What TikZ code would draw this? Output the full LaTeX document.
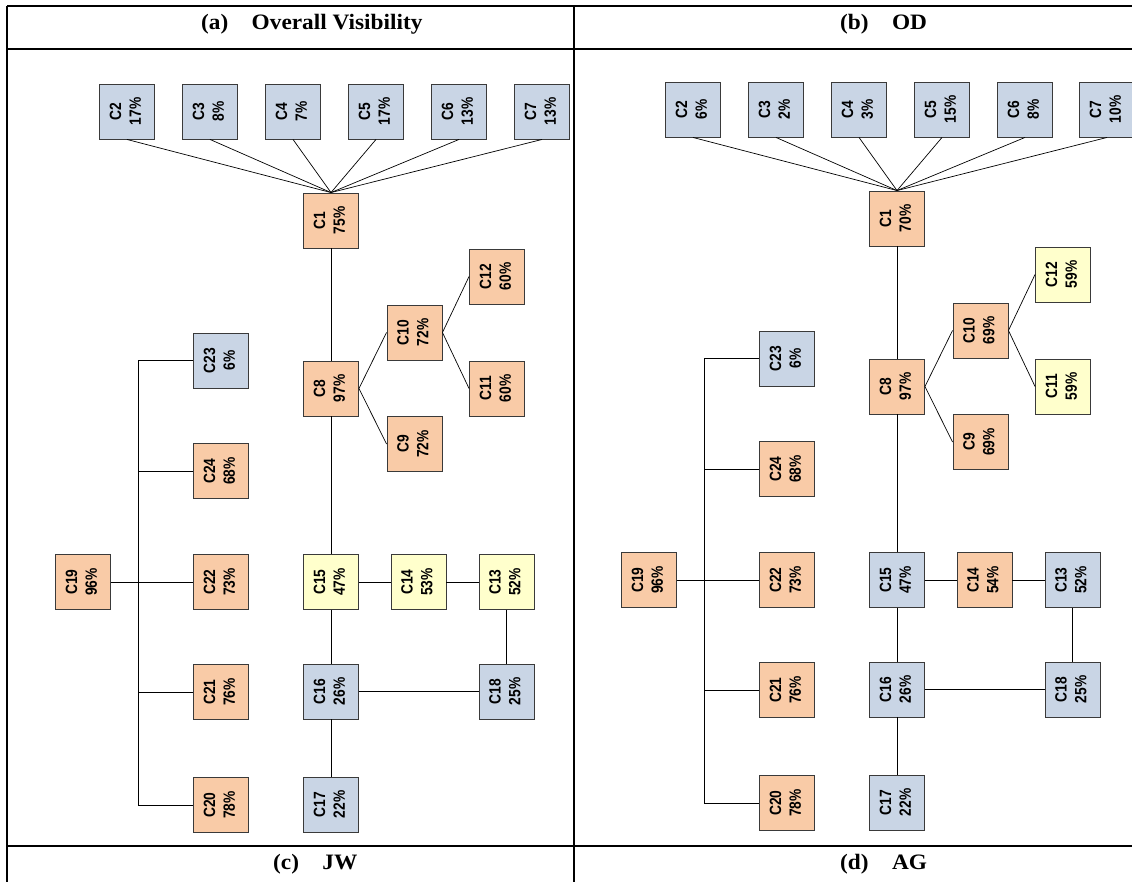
\documentclass[tikz,border=0pt]{standalone}
\usepackage{fontspec}
\setmainfont{Liberation Serif}
\setsansfont{Liberation Sans}
\definecolor{org}{HTML}{F9CBA7}
\definecolor{blu}{HTML}{C9D5E5}
\definecolor{yel}{HTML}{FFFFCC}
\definecolor{bdr}{HTML}{3A3A3A}
\newcommand{\lbl}[2]{\rotatebox{90}{\scalebox{1}[1.18]{\begin{tabular}{@{}c@{}}#1\\#2\end{tabular}}}}
\newcommand{\hdtxt}[2]{\scalebox{1.06}[1]{#1\hspace{22bp}#2}}
\tikzset{
  cbox/.style={draw=bdr, line width=0.9bp, minimum width=55bp, minimum height=55bp, inner sep=0pt,
    font=\sffamily\bfseries\fontsize{13.8bp}{16.8bp}\selectfont, fill=#1},
  link/.style={draw=black, line width=0.7bp},
  frame/.style={draw=black, line width=2bp},
  head/.style={font=\rmfamily\bfseries\fontsize{22bp}{26bp}\selectfont, anchor=west, inner sep=0pt}
}
\begin{document}
\begin{tikzpicture}[x=1bp,y=-1bp]
\useasboundingbox (0,0) rectangle (1132,882);
% frame
\coordinate (fTL) at (7,6);
\coordinate (fTR) at (1132,6);
\coordinate (fHL) at (7,49);
\coordinate (fHR) at (1132,49);
\coordinate (fBL) at (7,846);
\coordinate (fBR) at (1132,846);
\coordinate (fBot) at (7,882);
\coordinate (dTop) at (574,6);
\coordinate (dBot) at (574,882);
\draw[frame] (fTL) -- (fTR);
\draw[frame] (fHL) -- (fHR);
\draw[frame] (fBL) -- (fBR);
\draw[frame] (fTL) -- (fBot);
\draw[frame] (dTop) -- (dBot);
\node[head] (ha) at (201,24) {\hdtxt{(a)}{Overall Visibility}};
\node[head] (hb) at (840,24) {\hdtxt{(b)}{OD}};
\node[head] (hc) at (273,864) {\hdtxt{(c)}{JW}};
\node[head] (hd) at (840,864) {\hdtxt{(d)}{AG}};

% ---------- panel (a)
\node[cbox=blu] (a2) at (127,111.5) {\lbl{C2}{17\%}};
\node[cbox=blu] (a3) at (210,111.5) {\lbl{C3}{8\%}};
\node[cbox=blu] (a4) at (293,111.5) {\lbl{C4}{7\%}};
\node[cbox=blu] (a5) at (376,111.5) {\lbl{C5}{17\%}};
\node[cbox=blu] (a6) at (459,111.5) {\lbl{C6}{13\%}};
\node[cbox=blu] (a7) at (542,111.5) {\lbl{C7}{13\%}};
\node[cbox=org] (a1) at (331,220.5) {\lbl{C1}{75\%}};
\node[cbox=org] (a8) at (331,388.5) {\lbl{C8}{97\%}};
\node[cbox=org] (a10) at (414.5,332.5) {\lbl{C10}{72\%}};
\node[cbox=org] (a9) at (414.5,444) {\lbl{C9}{72\%}};
\node[cbox=org] (a12) at (497,276.5) {\lbl{C12}{60\%}};
\node[cbox=org] (a11) at (497,388.5) {\lbl{C11}{60\%}};
\node[cbox=blu] (a23) at (221,360.5) {\lbl{C23}{6\%}};
\node[cbox=org] (a24) at (221,471) {\lbl{C24}{68\%}};
\node[cbox=org] (a22) at (221,582) {\lbl{C22}{73\%}};
\node[cbox=org] (a21) at (221,692) {\lbl{C21}{76\%}};
\node[cbox=org] (a20) at (221,805) {\lbl{C20}{78\%}};
\node[cbox=org] (a19) at (83,582) {\lbl{C19}{96\%}};
\node[cbox=yel] (a15) at (331,582) {\lbl{C15}{47\%}};
\node[cbox=yel] (a14) at (418.5,582) {\lbl{C14}{53\%}};
\node[cbox=yel] (a13) at (506.5,582) {\lbl{C13}{52\%}};
\node[cbox=blu] (a16) at (331,691.5) {\lbl{C16}{26\%}};
\node[cbox=blu] (a18) at (506.5,691.5) {\lbl{C18}{25\%}};
\node[cbox=blu] (a17) at (331,804.5) {\lbl{C17}{22\%}};
\coordinate (aT) at (138,0);
\foreach \k in {2,...,7} {\draw[link] (a1.north) -- (a\k.south);}
\draw[link] (a1) -- (a8);
\draw[link] (a8.east) -- (a10.west);
\draw[link] (a8.east) -- (a9.west);
\draw[link] (a10.east) -- (a12.west);
\draw[link] (a10.east) -- (a11.west);
\draw[link] (a8) -- (a15);
\draw[link] (a15) -- (a14);
\draw[link] (a14) -- (a13);
\draw[link] (a13) -- (a18);
\draw[link] (a15) -- (a16);
\draw[link] (a16) -- (a18);
\draw[link] (a16) -- (a17);
\draw[link] (a19) -- (a22);
\draw[link] (a23.west) -- (a23.west -| aT) -- (a20.west -| aT) -- (a20.west);
\draw[link] (a24.west) -- (a24.west -| aT);
\draw[link] (a21.west) -- (a21.west -| aT);

% ---------- panel (b)
\begin{scope}[shift={(566,-2)}]
\node[cbox=blu] (b2) at (127,111.5) {\lbl{C2}{6\%}};
\node[cbox=blu] (b3) at (210,111.5) {\lbl{C3}{2\%}};
\node[cbox=blu] (b4) at (293,111.5) {\lbl{C4}{3\%}};
\node[cbox=blu] (b5) at (376,111.5) {\lbl{C5}{15\%}};
\node[cbox=blu] (b6) at (459,111.5) {\lbl{C6}{8\%}};
\node[cbox=blu] (b7) at (541,111.5) {\lbl{C7}{10\%}};
\node[cbox=org] (b1) at (331,220.5) {\lbl{C1}{70\%}};
\node[cbox=org] (b8) at (331,388.5) {\lbl{C8}{97\%}};
\node[cbox=org] (b10) at (414.5,332.5) {\lbl{C10}{69\%}};
\node[cbox=org] (b9) at (414.5,444) {\lbl{C9}{69\%}};
\node[cbox=yel] (b12) at (497,276.5) {\lbl{C12}{59\%}};
\node[cbox=yel] (b11) at (497,388.5) {\lbl{C11}{59\%}};
\node[cbox=blu] (b23) at (221,360.5) {\lbl{C23}{6\%}};
\node[cbox=org] (b24) at (221,471) {\lbl{C24}{68\%}};
\node[cbox=org] (b22) at (221,582) {\lbl{C22}{73\%}};
\node[cbox=org] (b21) at (221,692) {\lbl{C21}{76\%}};
\node[cbox=org] (b20) at (221,805) {\lbl{C20}{78\%}};
\node[cbox=org] (b19) at (83,582) {\lbl{C19}{96\%}};
\node[cbox=blu] (b15) at (331,582) {\lbl{C15}{47\%}};
\node[cbox=org] (b14) at (418.5,582) {\lbl{C14}{54\%}};
\node[cbox=blu] (b13) at (506.5,582) {\lbl{C13}{52\%}};
\node[cbox=blu] (b16) at (331,691.5) {\lbl{C16}{26\%}};
\node[cbox=blu] (b18) at (506.5,691.5) {\lbl{C18}{25\%}};
\node[cbox=blu] (b17) at (331,804.5) {\lbl{C17}{22\%}};
\coordinate (bT) at (138,0);
\end{scope}
\foreach \k in {2,...,7} {\draw[link] (b1.north) -- (b\k.south);}
\draw[link] (b1) -- (b8);
\draw[link] (b8.east) -- (b10.west);
\draw[link] (b8.east) -- (b9.west);
\draw[link] (b10.east) -- (b12.west);
\draw[link] (b10.east) -- (b11.west);
\draw[link] (b8) -- (b15);
\draw[link] (b15) -- (b14);
\draw[link] (b14) -- (b13);
\draw[link] (b13) -- (b18);
\draw[link] (b15) -- (b16);
\draw[link] (b16) -- (b18);
\draw[link] (b16) -- (b17);
\draw[link] (b19) -- (b22);
\draw[link] (b23.west) -- (b23.west -| bT) -- (b20.west -| bT) -- (b20.west);
\draw[link] (b24.west) -- (b24.west -| bT);
\draw[link] (b21.west) -- (b21.west -| bT);
\end{tikzpicture}
\end{document}
